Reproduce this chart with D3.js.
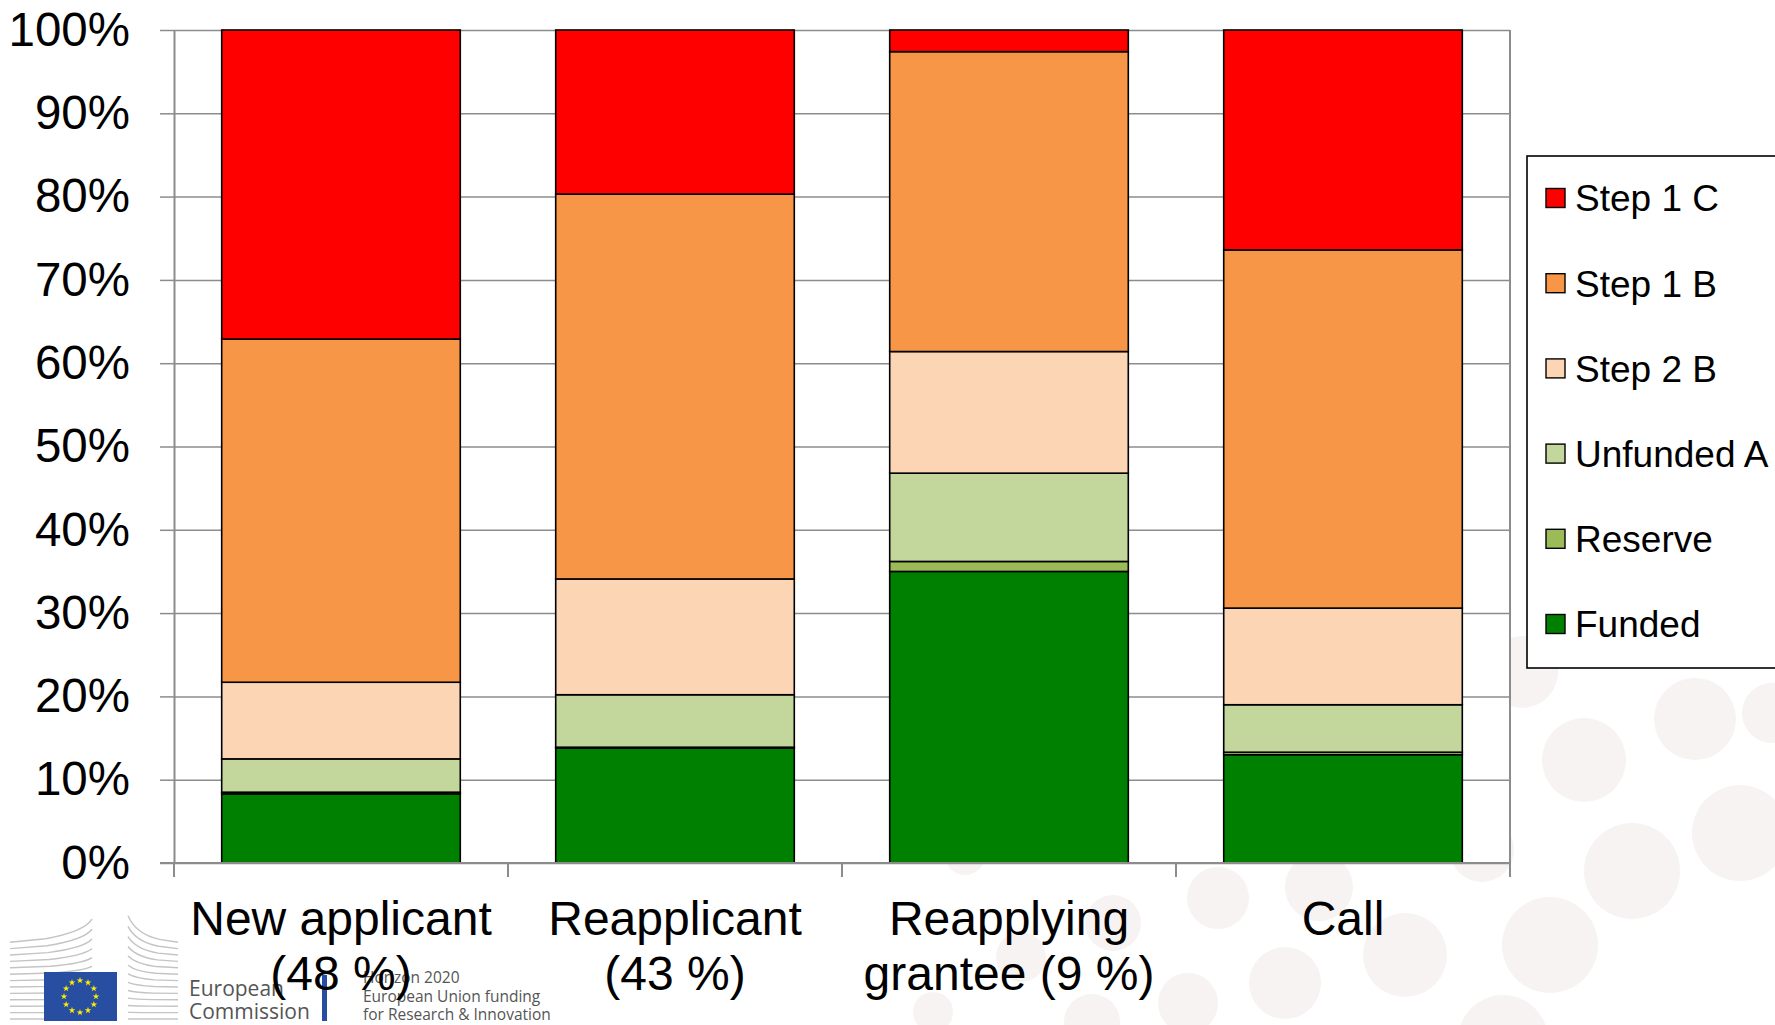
<!DOCTYPE html>
<html>
<head>
<meta charset="utf-8">
<script src="https://cdn.jsdelivr.net/npm/d3@7"></script>
<style>
  html, body { margin: 0; padding: 0; background: #ffffff; }
  svg { display: block; }
</style>
</head>
<body>
<div id="chart"></div>
<script>
// ---------------- DATA ----------------
const categories = ["New applicant (48 %)", "Reapplicant (43 %)", "Reapplying grantee (9 %)", "Call"];
const categoryLines = [["New applicant", "(48 %)"], ["Reapplicant", "(43 %)"], ["Reapplying", "grantee (9 %)"], ["Call"]];

const seriesNames = ["Funded", "Reserve", "Unfunded A", "Step 2 B", "Step 1 B", "Step 1 C"];
const funded    = [8.3, 13.8, 35.0, 13.0];
const reserve   = [0.2, 0.1, 1.2, 0.3];
const unfundedA = [4.0, 6.3, 10.6, 5.7];
const step2B    = [9.2, 13.9, 14.6, 11.6];
const step1B    = [41.2, 46.2, 36.0, 43.0];
const step1C    = [37.1, 19.7, 2.6, 26.4];
const seriesColors = ["#008000", "#9bbb59", "#c3d69b", "#fcd5b5", "#f79646", "#ff0000"];

const yTickValues = [0, 10, 20, 30, 40, 50, 60, 70, 80, 90, 100];
const yTickLabels = ["0%", "10%", "20%", "30%", "40%", "50%", "60%", "70%", "80%", "90%", "100%"];

// ---------------- LAYOUT ----------------
const W = 1775, H = 1025;
const plot = { left: 174, right: 1510, top: 30, bottom: 863 };
const FONT = "'Liberation Sans', Arial, sans-serif";

const svg = d3.select("#chart").append("svg").attr("width", W).attr("height", H);
svg.append("rect").attr("width", W).attr("height", H).attr("fill", "#ffffff");

// decorative background circles (slide template)
const bgCircles = [
  [965, 855, 20], [1113, 923, 28], [1021, 957, 25], [933, 1012, 20], [1092, 1022, 28],
  [1218, 898, 31], [1188, 1003, 30], [1319, 887, 34], [1285, 983, 36], [1405, 955, 42],
  [1503, 1040, 45], [1482, 850, 32], [1550, 945, 48], [1632, 871, 48], [1740, 833, 48],
  [1584, 760, 42], [1695, 719, 41], [1772, 713, 30], [1522, 672, 36]
];
svg.append("g").selectAll("circle").data(bgCircles).join("circle")
  .attr("cx", d => d[0]).attr("cy", d => d[1]).attr("r", d => d[2])
  .attr("fill", "#f7f3f2");

// ---------------- SCALES ----------------
const x = d3.scaleBand().domain(categories).range([plot.left, plot.right])
  .paddingInner(0.2857).paddingOuter(0.1428);
const y = d3.scaleLinear().domain([0, 100]).range([plot.bottom, plot.top]);

// plot area
svg.append("rect").attr("x", plot.left).attr("y", plot.top)
  .attr("width", plot.right - plot.left).attr("height", plot.bottom - plot.top)
  .attr("fill", "#ffffff");

// gridlines
const grid = svg.append("g").attr("transform", `translate(${plot.left},0)`)
  .call(d3.axisLeft(y).tickValues(yTickValues).tickSize(-(plot.right - plot.left)).tickFormat(""));
grid.select(".domain").remove();
grid.selectAll(".tick line").attr("stroke", "#8c8c8c").attr("stroke-width", 1.5);

// y axis with labels
const yAxis = svg.append("g").attr("transform", `translate(${plot.left},0)`)
  .call(d3.axisLeft(y).tickValues(yTickValues).tickSizeInner(14).tickSizeOuter(0).tickPadding(30)
    .tickFormat((d, i) => yTickLabels[i]));
yAxis.select(".domain").attr("stroke", "#8c8c8c").attr("stroke-width", 2);
yAxis.selectAll(".tick line").attr("stroke", "#8c8c8c").attr("stroke-width", 1.5);
yAxis.selectAll(".tick text").attr("font-family", FONT).attr("font-size", 47.5).attr("fill", "#000");

// stacked bars
const rows = categories.map((c, i) => ({
  cat: c,
  "Funded": funded[i], "Reserve": reserve[i], "Unfunded A": unfundedA[i],
  "Step 2 B": step2B[i], "Step 1 B": step1B[i], "Step 1 C": step1C[i]
}));
const stacked = d3.stack().keys(seriesNames)(rows);
const color = d3.scaleOrdinal().domain(seriesNames).range(seriesColors);

svg.append("g").selectAll("g").data(stacked).join("g")
  .attr("fill", d => color(d.key))
  .selectAll("rect").data(d => d).join("rect")
  .attr("x", d => x(d.data.cat))
  .attr("width", x.bandwidth())
  .attr("y", d => y(d[1]))
  .attr("height", d => y(d[0]) - y(d[1]))
  .attr("stroke", "#000").attr("stroke-width", 1.6);

// right border & bottom axis with boundary ticks
const step = x.step();
const gap = step * x.paddingInner();
const boundaries = categories.map(c => x(c) - gap / 2).concat([x(categories[categories.length - 1]) + x.bandwidth() + gap / 2]);
svg.append("line").attr("x1", plot.right).attr("x2", plot.right).attr("y1", plot.top).attr("y2", plot.bottom)
  .attr("stroke", "#8c8c8c").attr("stroke-width", 2);
svg.append("line").attr("x1", plot.left - 14).attr("x2", plot.right).attr("y1", plot.bottom).attr("y2", plot.bottom)
  .attr("stroke", "#8c8c8c").attr("stroke-width", 2);
svg.append("g").selectAll("line").data(boundaries).join("line")
  .attr("x1", d => d).attr("x2", d => d).attr("y1", plot.bottom).attr("y2", plot.bottom + 14)
  .attr("stroke", "#8c8c8c").attr("stroke-width", 2);

// ---------------- LOGO (slide template) ----------------
const logo = svg.append("g");
for (let i = 0; i < 13; i++) {
  const yy = 1019 - i * 6.4;
  const rise = i * i * 0.16;
  logo.append("path")
    .attr("d", `M10,${yy} L${60 - i * 1.2},${yy - rise * 0.15} Q${84},${yy - rise * 0.45} ${92},${yy - rise}`)
    .attr("fill", "none").attr("stroke", "#c4c4c4").attr("stroke-width", 1.4);
  logo.append("path")
    .attr("d", `M128,${yy - rise * 1.15} Q${136},${yy - rise * 0.35} ${150 + i * 0.8},${yy - rise * 0.12} L178,${yy}`)
    .attr("fill", "none").attr("stroke", "#c4c4c4").attr("stroke-width", 1.4);
}
logo.append("rect").attr("x", 44).attr("y", 972).attr("width", 73).attr("height", 49).attr("fill", "#284ea1");
const starPts = d3.range(12).map(k => [80 + 16 * Math.cos(k * Math.PI / 6), 996.5 + 16 * Math.sin(k * Math.PI / 6)]);
logo.selectAll("path.star").data(starPts).join("path").attr("class", "star")
  .attr("d", d3.symbol().type(d3.symbolStar).size(14))
  .attr("transform", d => `translate(${d[0]},${d[1]})`)
  .attr("fill", "#ffed00");
logo.append("text").attr("x", 189).attr("y", 996).text("European")
  .attr("font-family", "'Open Sans', sans-serif").attr("font-size", 21).attr("fill", "#555");
logo.append("text").attr("x", 189).attr("y", 1019).text("Commission")
  .attr("font-family", "'Open Sans', sans-serif").attr("font-size", 21).attr("fill", "#555");
logo.append("rect").attr("x", 322).attr("y", 975).attr("width", 5).attr("height", 46).attr("fill", "#284ea1");
["Horizon 2020", "European Union funding", "for Research & Innovation"].forEach((t, i) => {
  logo.append("text").attr("x", 363).attr("y", 983 + i * 18.5).text(t)
    .attr("font-family", "'Open Sans', sans-serif").attr("font-size", 15.5).attr("fill", "#555");
});

// category labels
const xl = svg.append("g");
categories.forEach((c, i) => {
  const cx = x(c) + x.bandwidth() / 2;
  categoryLines[i].forEach((line, j) => {
    xl.append("text").attr("x", cx).attr("y", 935 + j * 55)
      .attr("text-anchor", "middle").attr("font-family", FONT).attr("font-size", 48)
      .attr("fill", "#000").text(line);
  });
});

// ---------------- LEGEND ----------------
const legend = svg.append("g");
legend.append("rect").attr("x", 1527).attr("y", 156).attr("width", 270).attr("height", 512)
  .attr("fill", "#fff").attr("stroke", "#000").attr("stroke-width", 1.6);
const legendOrder = seriesNames.slice().reverse();
const li = legend.selectAll("g.item").data(legendOrder).join("g").attr("class", "item")
  .attr("transform", (d, i) => `translate(1546, ${198 + i * 85.2})`);
li.append("rect").attr("x", 0).attr("y", -9.5).attr("width", 19).attr("height", 19)
  .attr("fill", d => color(d)).attr("stroke", "#000").attr("stroke-width", 1.4);
li.append("text").attr("x", 29).attr("dy", "0.36em").text(d => d)
  .attr("font-family", FONT).attr("font-size", 37).attr("fill", "#000");
</script>
</body>
</html>
